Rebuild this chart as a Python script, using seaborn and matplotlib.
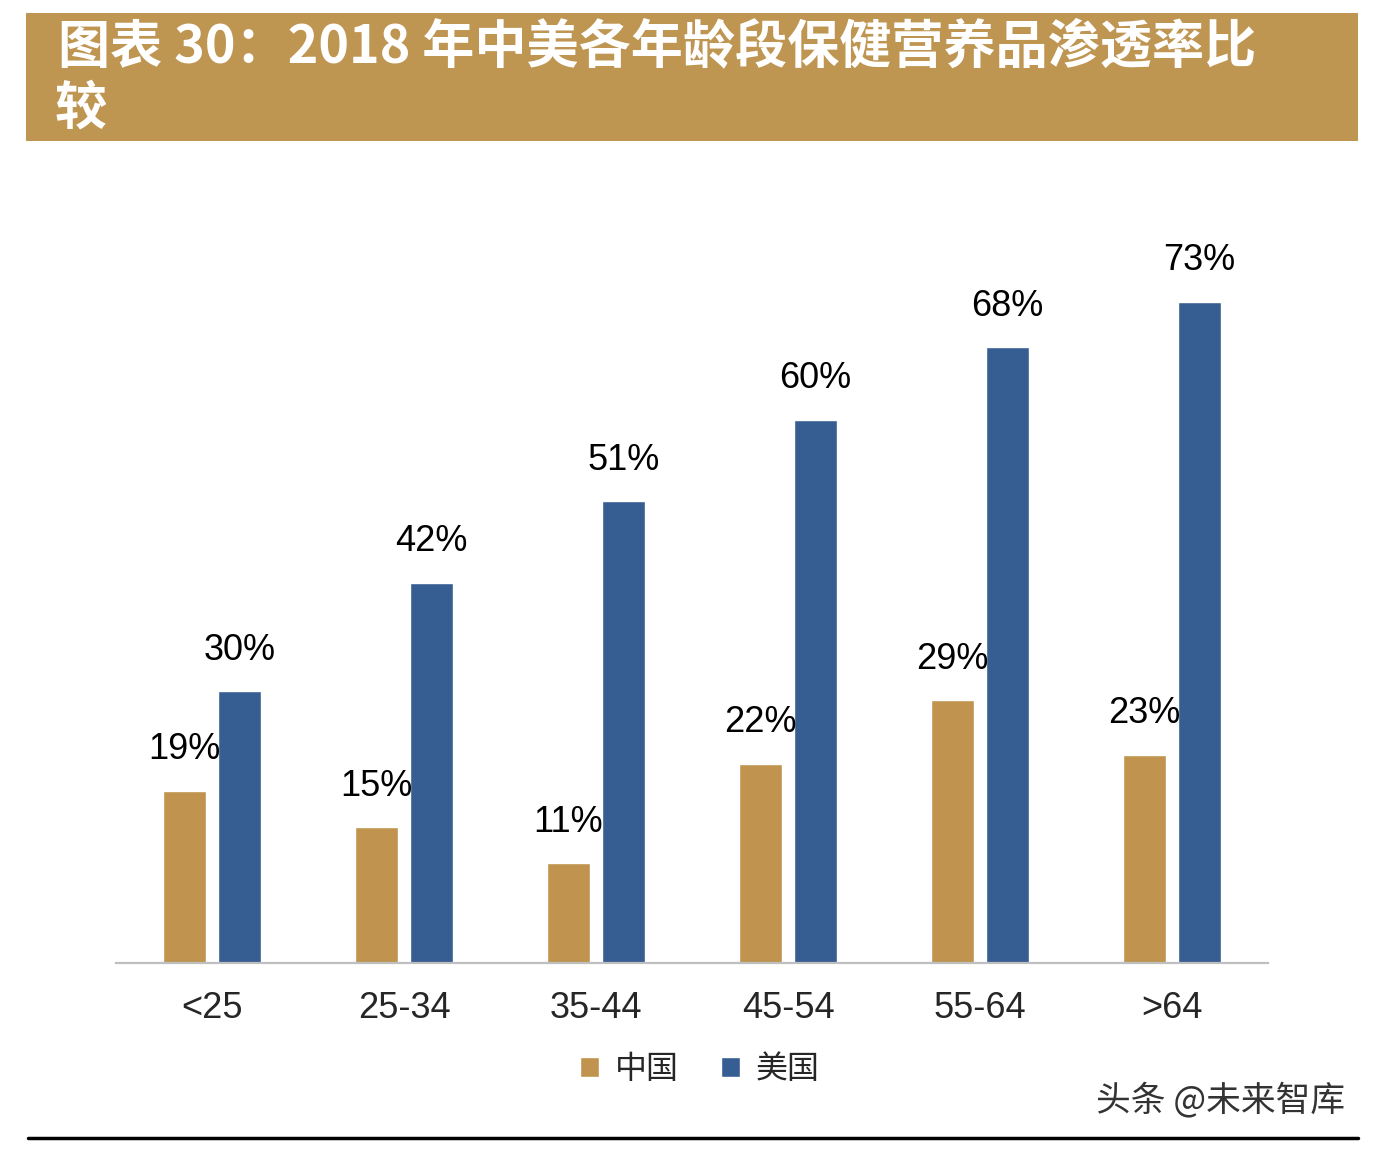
import matplotlib
matplotlib.use('Agg')
import matplotlib.pyplot as plt
import matplotlib.patches as mpatches
from matplotlib.lines import Line2D
import pandas as pd
import seaborn as sns

ages = ['<25', '25-34', '35-44', '45-54', '55-64', '>64']
china = [19, 15, 11, 22, 29, 23]
usa = [30, 42, 51, 60, 68, 73]
countries = ['中国', '美国']
colors = ['#C0944F', '#365E92']

sns.set_style('white')
plt.rcParams['font.family'] = ['Liberation Sans', 'Noto Sans CJK SC', 'DejaVu Sans']

df = pd.DataFrame({
    'age': ages * 2,
    'value': china + usa,
    'country': [countries[0]] * len(ages) + [countries[1]] * len(ages),
})

fig = plt.figure(figsize=(13.74, 11.5), dpi=100)
ax = fig.add_axes([116 / 1374, 1 - 963 / 1150, 1152 / 1374, 733.5 / 1150])

sns.barplot(data=df, x='age', y='value', hue='country', order=ages,
            hue_order=countries, palette=colors, width=0.572, gap=0.217,
            saturation=1, legend=False, ax=ax)

for cont in ax.containers:
    ax.bar_label(cont, labels=[f'{v:.0f}%' for v in cont.datavalues],
                 padding=17, fontsize=26, color='black')

ax.set_ylim(0, 81)
ax.set_xlim(-0.5, 5.5)
ax.set_xlabel('')
ax.set_ylabel('')
ax.set_yticks([])
ax.tick_params(axis='x', length=0, pad=20, labelsize=26)
for s in ['top', 'right', 'left']:
    ax.spines[s].set_visible(False)
ax.spines['bottom'].set_color('#BFBFBF')
ax.spines['bottom'].set_linewidth(1.6)

# title banner
fig.patches.append(mpatches.Rectangle((26 / 1374, 1 - 141 / 1150), 1332 / 1374, 128 / 1150,
                                      transform=fig.transFigure, facecolor='#BF9552',
                                      edgecolor='none', zorder=0))
fig.text(58 / 1374, 1 - 47 / 1150, '图表 30：2018 年中美各年龄段保健营养品渗透率比',
         fontsize=37.5, fontweight='bold', color='white', va='center', ha='left',
         family=['Noto Sans CJK SC', 'DejaVu Sans'])
fig.text(55 / 1374, 1 - 108 / 1150, '较',
         fontsize=37.5, fontweight='bold', color='white', va='center', ha='left',
         family=['Noto Sans CJK SC', 'DejaVu Sans'])

handles = [mpatches.Patch(facecolor=colors[0], label=countries[0]),
           mpatches.Patch(facecolor=colors[1], label=countries[1])]
fig.legend(handles=handles, loc='center', bbox_to_anchor=(700 / 1374, 1 - 1069 / 1150),
           ncol=2, frameon=False, handlelength=0.6, handleheight=0.6,
           handletextpad=0.5, columnspacing=1.3,
           prop={'family': ['Noto Sans CJK SC'], 'size': 23})

fig.text(1345 / 1374, 1 - 1100 / 1150, '头条 @未来智库', fontsize=25, color='#333333',
         ha='right', va='center', family=['Noto Sans CJK SC', 'DejaVu Sans'])

fig.lines.append(Line2D([28 / 1374, 1358 / 1374], [1 - 1138 / 1150, 1 - 1138 / 1150],
                        transform=fig.transFigure, color='black', linewidth=2.5))

fig.savefig('out.png', dpi=100)
